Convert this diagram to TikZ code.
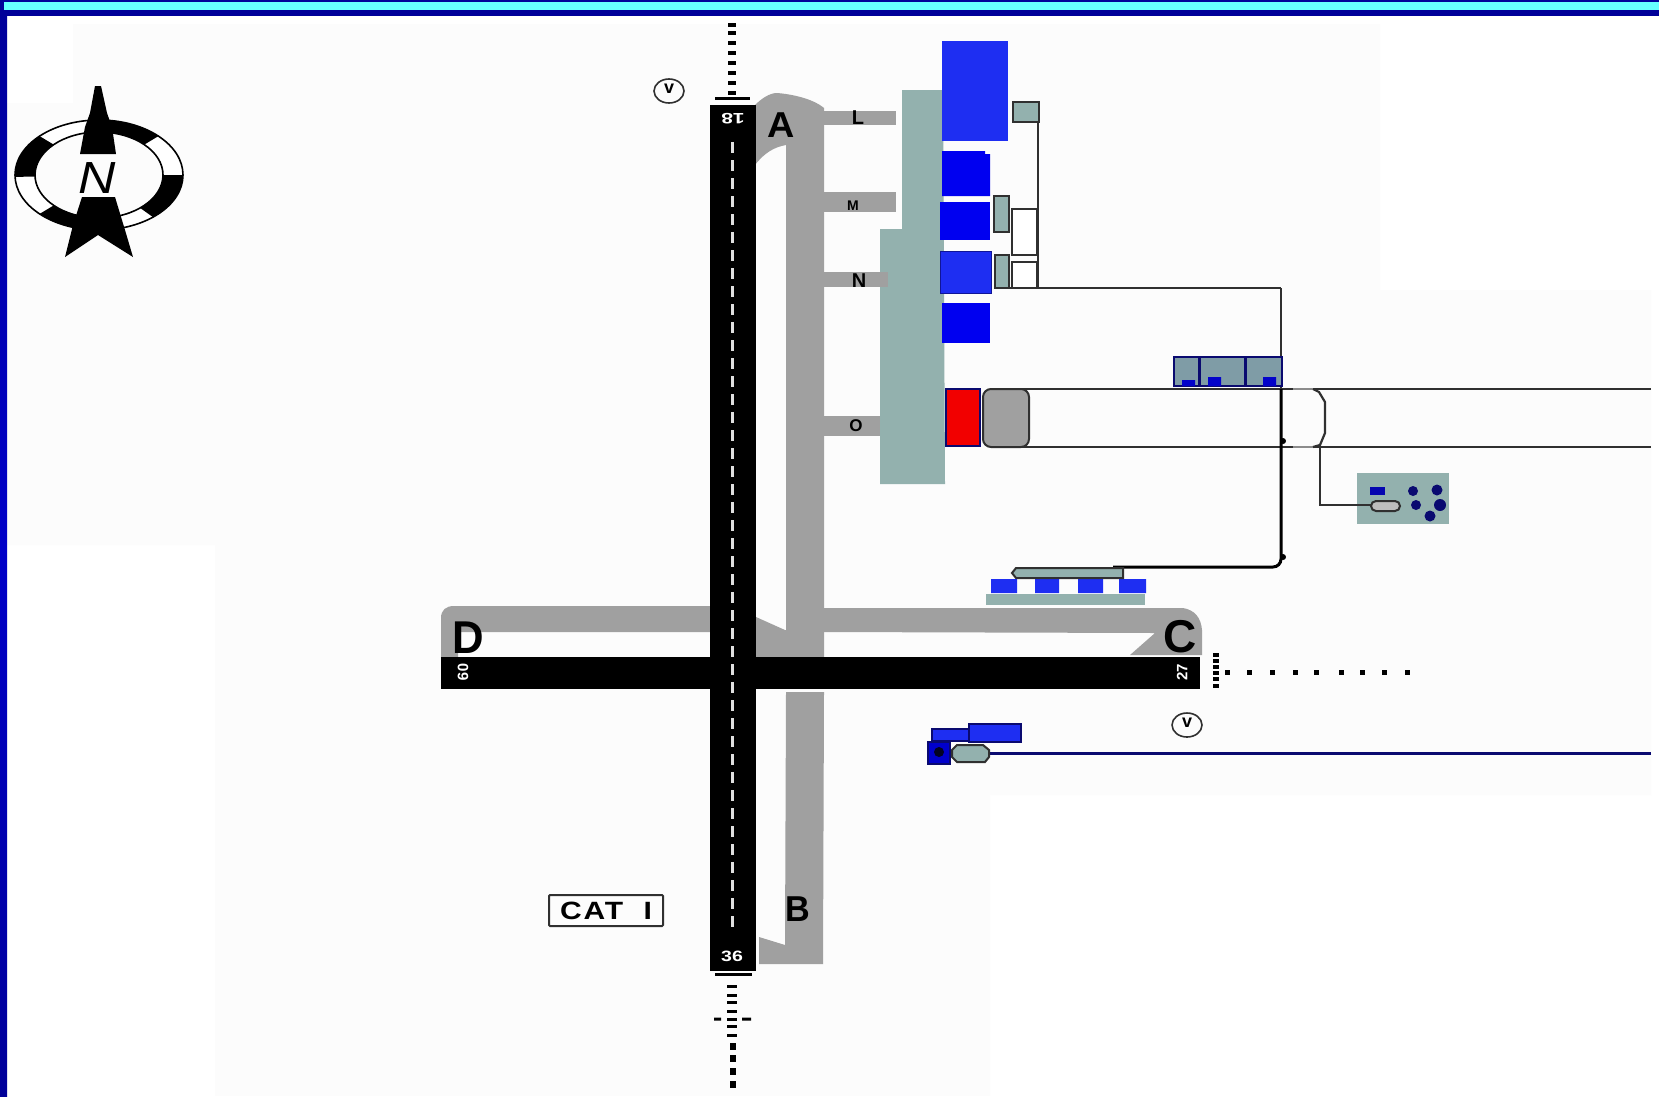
\documentclass[tikz,border=0pt]{standalone}
\usepackage{fontspec}
\setmainfont{Liberation Sans}
\newcommand{\sz}[1]{\fontsize{#1}{#1}\selectfont}
\definecolor{offw}{HTML}{FCFCFC}
\definecolor{twy}{HTML}{A0A0A0}
\definecolor{teal1}{HTML}{93B1AE}
\definecolor{blue1}{HTML}{1E2EF2}
\definecolor{blue2}{HTML}{0000F0}
\definecolor{navy1}{HTML}{0A0A70}
\definecolor{frame1}{HTML}{000099}
\definecolor{frame2}{HTML}{0000C8}
\definecolor{cyan1}{HTML}{66FFFF}
\definecolor{slate1}{HTML}{7F9CA6}
\definecolor{line1}{HTML}{303030}
\tikzset{
  twyfill/.style={fill=twy,draw=none},
  tealfill/.style={fill=teal1,draw=none},
  rwy/.style={fill=black,draw=none},
  bluea/.style={fill=blue1,draw=none},
  blueb/.style={fill=blue2,draw=none},
  outl/.style={draw=line1,line width=2pt},
  wire/.style={draw=line1,line width=2.2pt},
  navyl/.style={draw=navy1,line width=1.6pt},
  lights/.style={fill=black,draw=none},
  biglet/.style={inner sep=0pt,text=black,font=\bfseries\sz{36}},
  twylet/.style={inner sep=0pt,text=black,font=\bfseries\sz{20}},
  rwynum/.style={inner sep=0pt,text=white,font=\bfseries\sz{15}},
  vor/.style={inner sep=0pt,text=black,font=\bfseries\sz{18}},
}
\begin{document}
\begin{tikzpicture}[x=1pt,y=-1pt]
\useasboundingbox (0,0) rectangle (1659,1096);
\fill[white] (0,0) rectangle (1659,1096);
% off-white background
\fill[offw] (73,24) -- (1380,24) -- (1380,290) -- (1651,290) -- (1651,795) -- (990,795) -- (990,1096) -- (215,1096) -- (215,545) -- (7,545) -- (7,103) -- (73,103) -- cycle;
% frame
\shade[top color=frame1,bottom color=frame1,middle color=frame2] (0,0) rectangle (7,1096);
\fill[frame1] (0,0) rectangle (1659,16);
\fill[cyan1] (4,2) rectangle (1659,10);
% taxiways
\path[twyfill] (755,105) .. controls (762,98) and (770,93) .. (777,93) .. controls (790,94) and (812,98) .. (824,108) -- (824,657) -- (756,657) -- (756,617) -- (785,630) -- (786,630) -- (786,145) .. controls (775,147) and (765,152) .. (755,165) -- cycle;
\path[twyfill] (824,111) rectangle (896,125);
\path[twyfill] (824,192) rectangle (896,212);
\path[twyfill] (824,416) rectangle (882,436);
\path[twyfill] (786,692) -- (824,692) -- (823,964) -- (759,964) -- (759,937) -- (785,945) -- cycle;
\path[twyfill] (441,660) -- (441,618) .. controls (441,610) and (446,606) .. (454,606) -- (712,606) -- (712,632) -- (458,632) -- (458,660) -- cycle;
\path[twyfill] (824,608) -- (1183,608) .. controls (1195,610) and (1201,618) .. (1202,630) -- (1202,655) -- (1130,655) -- (1155,633) -- (824,632) -- cycle;
% terminal apron
\path[tealfill] (902,90) -- (943,90) -- (945,484) -- (880,484) -- (880,229) -- (902,229) -- cycle;
\path[twyfill] (824,272) rectangle (888,287);
% blue stands
\path[bluea] (942,41) rectangle (1008,141);
\path[blueb] (942,151) -- (985,151) -- (985,154) -- (990,154) -- (990,196) -- (942,196) -- cycle;
\path[blueb] (940,202) rectangle (990,240);
\path[bluea] (940,251) rectangle (991,293);
\draw[navy1!70!blue1,line width=1pt] (940,251) rectangle (991,293);
\path[blueb] (942,303) rectangle (990,343);
% red and grey buildings
\draw[fill=red!95!black,draw=navy1,line width=1.8pt] (946,389) rectangle (980,446);
\draw[outl,fill=twy,rounded corners=8pt] (983,389) rectangle (1029,447);
% wires and small buildings top right
\draw[wire] (1038,122) -- (1038,288);
\draw[wire] (1010,288) -- (1281,288);
\draw[outl,fill=teal1] (1013,102) rectangle (1039,122);
\draw[outl,fill=teal1] (994,196) rectangle (1009,232);
\draw[outl,fill=teal1] (995,255) rectangle (1009,288);
\draw[outl,fill=white] (1012,209) rectangle (1037,255);
\draw[outl,fill=white] (1012,262) rectangle (1037,288);
% long lines, faint where the rounded outline passes
\draw[wire] (1000,389) -- (1293,389);
\draw[wire] (1000,447) -- (1293,447);
\draw[wire] (1313,389) -- (1651,389);
\draw[wire] (1313,447) -- (1651,447);
\draw[black!45,line width=1.2pt] (1293,389) -- (1313,389) (1293,447) -- (1313,447);
\draw[wire] (1313,389) -- (1319,392) -- (1325,402) -- (1325,433) -- (1320,445) -- (1313,447);
\draw[wire] (1281,288) -- (1281,389);
\draw[draw=black,line width=3pt,rounded corners=8pt] (1281,389) -- (1281,567) -- (1113,567);
\fill[black] (1283,557) circle (3);
\fill[black] (1283,441) circle (3);
% building over the wires
\draw[navyl,fill=slate1] (1174,357) rectangle (1282,386);
\draw[navy1,line width=3pt] (1199,357) -- (1199,386) (1245,357) -- (1245,386);
\path[fill=navy1!30!blue2] (1182,380) rectangle (1195,386) (1208,377) rectangle (1221,386) (1263,377) rectangle (1276,386);
% remote stand
\path[tealfill] (1357,473) rectangle (1449,524);
\draw[wire] (1320,447) -- (1320,505) -- (1372,505);
\draw[outl,fill=twy!70!white,rounded corners=5pt] (1371,501) rectangle (1400,511);
\path[fill=navy1!50!blue2] (1370,487) rectangle (1385,495);
\fill[navy1] (1413,491) circle (5) (1437,490) circle (5.5) (1416,505) circle (5) (1440,505) circle (6) (1430,516) circle (5.5);
% cargo area
\path[tealfill] (986,594) rectangle (1145,605);
\path[bluea] (991,579) rectangle (1017,593) (1035,579) rectangle (1059,593) (1078,579) rectangle (1103,593) (1119,579) rectangle (1146,593);
\draw[outl,fill=teal1] (1016,568) -- (1123,568) -- (1123,578) -- (1016,578) -- (1012,573) -- cycle;
% south apron
\draw[navyl,fill=blue1] (932,729) rectangle (970,741);
\draw[navyl,fill=blue1] (969,724) rectangle (1021,742);
\draw[navy1,line width=3pt] (985,753) -- (1651,753);
\draw[navyl,fill=blue2!85!black] (928,742) rectangle (950,764);
\fill[black!70!navy1] (939,752) circle (5);
\draw[outl,fill=teal1] (957,745) -- (983,745) -- (989,750) -- (989,757) -- (985,762) -- (957,762) -- (952,757) -- (952,750) -- cycle;
% runways
\path[rwy] (441,657) rectangle (1200,689);
\path[rwy] (710,105) rectangle (756,971);
\draw[white!88!black,line width=3pt,dash pattern=on 11pt off 7pt] (732,142) -- (732,930);
% approach lights north
\foreach \yy in {25,33,43,53,63,73,83,93}{\path[lights] (728,\yy-2) rectangle (736,\yy+2);}
\path[lights] (715,97) rectangle (750,99.5);
% approach lights south
\path[lights] (715,973) rectangle (752,976);
\foreach \yy in {986,995,1002,1011,1019,1026,1035}{\path[lights] (727,\yy-1.5) rectangle (737,\yy+1.5);}
\path[lights] (714,1017.5) rectangle (721,1020.5) (742,1017.5) rectangle (751,1020.5);
\foreach \yy in {1046,1058,1071,1084}{\path[lights] (730,\yy-3.5) rectangle (736,\yy+3.5);}
% approach lights east
\foreach \yy in {655,661,667,673,679,686}{\path[lights] (1213,\yy-2) rectangle (1219,\yy+2);}
\foreach \xx in {1227,1249,1272,1295,1316,1341,1362,1384,1407}{\path[lights] (\xx-2.5,669.5) rectangle (\xx+2.5,674.5);}
% labels
\node[biglet,xscale=1.05] (lblA) at (781,125) {A};
\node[biglet,font=\bfseries\sz{36},xscale=.95] (lblB) at (798,909) {B};
\node[biglet,font=\bfseries\sz{46}] (lblC) at (1180,637) {C};
\node[biglet,font=\bfseries\sz{46},xscale=.95] (lblD) at (468,638) {D};
\node[twylet] (lblL) at (858,118) {L};
\node[twylet,font=\bfseries\sz{14}] (lblM) at (853,206) {M};
\node[twylet] (lblN) at (859,281) {N};
\node[twylet,font=\bfseries\sz{17}] (lblO) at (856,426) {O};
\node[rwynum,rotate=180,xscale=1.4] (r18) at (733,119) {18};
\node[rwynum,xscale=1.3] (r36) at (732,956) {36};
\node[rwynum,rotate=-90] (r09) at (463,672) {09};
\node[rwynum,rotate=90] (r27) at (1182,672) {27};
% VOR symbols
\draw[line1,line width=1.6pt,fill=offw] (669,91) ellipse [x radius=15,y radius=12];
\node[vor] (v1) at (669,89) {v};
\draw[line1,line width=1.6pt,fill=offw] (1187,725) ellipse [x radius=15,y radius=12];
\node[vor] (v2) at (1187,723) {v};
% CAT I
\draw[line1,line width=2pt,rounded corners=1pt] (549,895) rectangle (663,926);
\node[inner sep=0pt,font=\bfseries\sz{25},xscale=1.2] (cat) at (606,911) {\addfontfeature{LetterSpace=6}\spaceskip=17pt CAT I};
% compass
\begin{scope}[shift={(99,175)},x=1pt,y=1pt]
  \draw[black,line width=1.6pt,fill=white] (0,0) ellipse [x radius=84,y radius=55];
  \foreach \aa/\bb in {135/182,45/85,-50/0,225/262}{
    \fill[black] (\aa:84pt and 55pt) arc[start angle=\aa,end angle=\bb,x radius=84pt,y radius=55pt] -- (\bb:64pt and 43pt) arc[start angle=\bb,end angle=\aa,x radius=64pt,y radius=43pt] -- cycle;
  }
  \draw[black,line width=1.6pt,fill=offw] (0,0) ellipse [x radius=64,y radius=43];
  \fill[offw] (-20,21) rectangle (20,-22);
  \fill[black] (-4,89) -- (2,89) -- (8,62) -- (13,48) -- (17,21) -- (-19,21) -- (-14,48) -- (-9,62) -- cycle;
  \fill[black] (-17,-22) -- (16,-22) -- (26,-55) -- (34,-82) -- (-1,-60) -- (-34,-82) -- (-26,-50) -- cycle;
  \node[inner sep=0pt,font=\itshape\sz{45},xscale=1.15] (north) at (-2,-3) {N};
\end{scope}
\end{tikzpicture}
\end{document}
